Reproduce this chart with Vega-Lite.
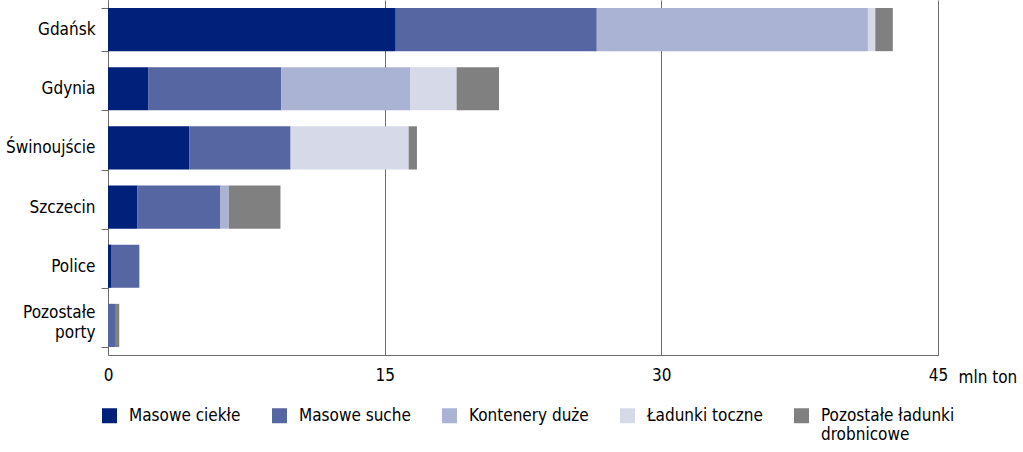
{
  "$schema": "https://vega.github.io/schema/vega-lite/v6.json",
  "width": 830,
  "height": 355,
  "autosize": {"type": "none"},
  "padding": {"left": 108, "top": 0, "right": 85, "bottom": 97},
  "background": "white",
  "config": {
    "font": "DejaVu Sans Condensed",
    "view": {"stroke": null}
  },
  "data": {
    "values": [
      {"port": "Gdańsk", "rodzaj": "Masowe ciekłe", "mln_ton": 15.6},
      {"port": "Gdańsk", "rodzaj": "Masowe suche", "mln_ton": 10.9},
      {"port": "Gdańsk", "rodzaj": "Kontenery duże", "mln_ton": 14.7},
      {"port": "Gdańsk", "rodzaj": "Ładunki toczne", "mln_ton": 0.4},
      {"port": "Gdańsk", "rodzaj": "Pozostałe ładunki drobnicowe", "mln_ton": 0.95},
      {"port": "Gdynia", "rodzaj": "Masowe ciekłe", "mln_ton": 2.2},
      {"port": "Gdynia", "rodzaj": "Masowe suche", "mln_ton": 7.2},
      {"port": "Gdynia", "rodzaj": "Kontenery duże", "mln_ton": 7.0},
      {"port": "Gdynia", "rodzaj": "Ładunki toczne", "mln_ton": 2.5},
      {"port": "Gdynia", "rodzaj": "Pozostałe ładunki drobnicowe", "mln_ton": 2.3},
      {"port": "Świnoujście", "rodzaj": "Masowe ciekłe", "mln_ton": 4.4},
      {"port": "Świnoujście", "rodzaj": "Masowe suche", "mln_ton": 5.5},
      {"port": "Świnoujście", "rodzaj": "Ładunki toczne", "mln_ton": 6.4},
      {"port": "Świnoujście", "rodzaj": "Pozostałe ładunki drobnicowe", "mln_ton": 0.45},
      {"port": "Szczecin", "rodzaj": "Masowe ciekłe", "mln_ton": 1.6},
      {"port": "Szczecin", "rodzaj": "Masowe suche", "mln_ton": 4.5},
      {"port": "Szczecin", "rodzaj": "Kontenery duże", "mln_ton": 0.45},
      {"port": "Szczecin", "rodzaj": "Pozostałe ładunki drobnicowe", "mln_ton": 2.8},
      {"port": "Police", "rodzaj": "Masowe ciekłe", "mln_ton": 0.2},
      {"port": "Police", "rodzaj": "Masowe suche", "mln_ton": 1.5},
      {"port": "Pozostałe porty", "rodzaj": "Masowe suche", "mln_ton": 0.38},
      {"port": "Pozostałe porty", "rodzaj": "Pozostałe ładunki drobnicowe", "mln_ton": 0.23}
    ]
  },
  "transform": [
    {"calculate": "indexof(['Masowe ciekłe','Masowe suche','Kontenery duże','Ładunki toczne','Pozostałe ładunki drobnicowe'], datum.rodzaj)", "as": "k"}
  ],
  "mark": {"type": "bar"},
  "encoding": {
    "y": {
      "field": "port",
      "type": "nominal",
      "sort": ["Gdańsk", "Gdynia", "Świnoujście", "Szczecin", "Police", "Pozostałe porty"],
      "scale": {"paddingInner": 0.27, "paddingOuter": 0.135},
      "axis": {
        "title": null,
        "tickBand": "extent",
        "tickSize": 7,
        "tickColor": "#6d6d6d",
        "domainColor": "#6d6d6d",
        "labelFontSize": 17,
        "labelColor": "#000000",
        "labelPadding": 6,
        "labelLineHeight": 20,
        "labelOffset": {"condition": {"test": "datum.value == 'Pozostałe porty'", "value": -13}, "value": 0},
        "labelExpr": "datum.value == 'Pozostałe porty' ? ['Pozostałe', 'porty'] : datum.value"
      }
    },
    "x": {
      "field": "mln_ton",
      "type": "quantitative",
      "stack": "zero",
      "scale": {"domain": [0, 45], "nice": false},
      "axis": {
        "values": [0, 15, 30, 45],
        "grid": true,
        "gridColor": "#6d6d6d",
        "gridOpacity": 1,
        "ticks": false,
        "domainColor": "#6d6d6d",
        "labelFontSize": 17,
        "labelColor": "#000000",
        "labelPadding": 12,
        "labelFlush": false,
        "title": "mln ton",
        "titleFontSize": 17,
        "titleFontWeight": "normal",
        "titleColor": "#000000",
        "titleAlign": "left",
        "titleAnchor": "start",
        "titleBaseline": "middle",
        "titleX": 850,
        "titleY": 22
      }
    },
    "color": {
      "field": "rodzaj",
      "type": "nominal",
      "scale": {
        "domain": ["Masowe ciekłe", "Masowe suche", "Kontenery duże", "Ładunki toczne", "Pozostałe ładunki drobnicowe"],
        "range": ["#00207a", "#5566a3", "#aab3d3", "#d6dae8", "#808080"]
      },
      "legend": {
        "title": null,
        "orient": "none",
        "direction": "horizontal",
        "legendX": -7,
        "legendY": 407,
        "symbolType": "square",
        "symbolSize": 225,
        "symbolStrokeWidth": 0,
        "labelFontSize": 17,
        "labelColor": "#000000",
        "labelOffset": 11,
        "labelLimit": 300,
        "labelLineHeight": 22,
        "labelBaseline": "middle",
        "columnPadding": 30,
        "labelExpr": "datum.label == 'Pozostałe ładunki drobnicowe' ? ['Pozostałe ładunki', 'drobnicowe'] : [datum.label, '']"
      }
    },
    "order": {"field": "k", "type": "quantitative"}
  }
}
